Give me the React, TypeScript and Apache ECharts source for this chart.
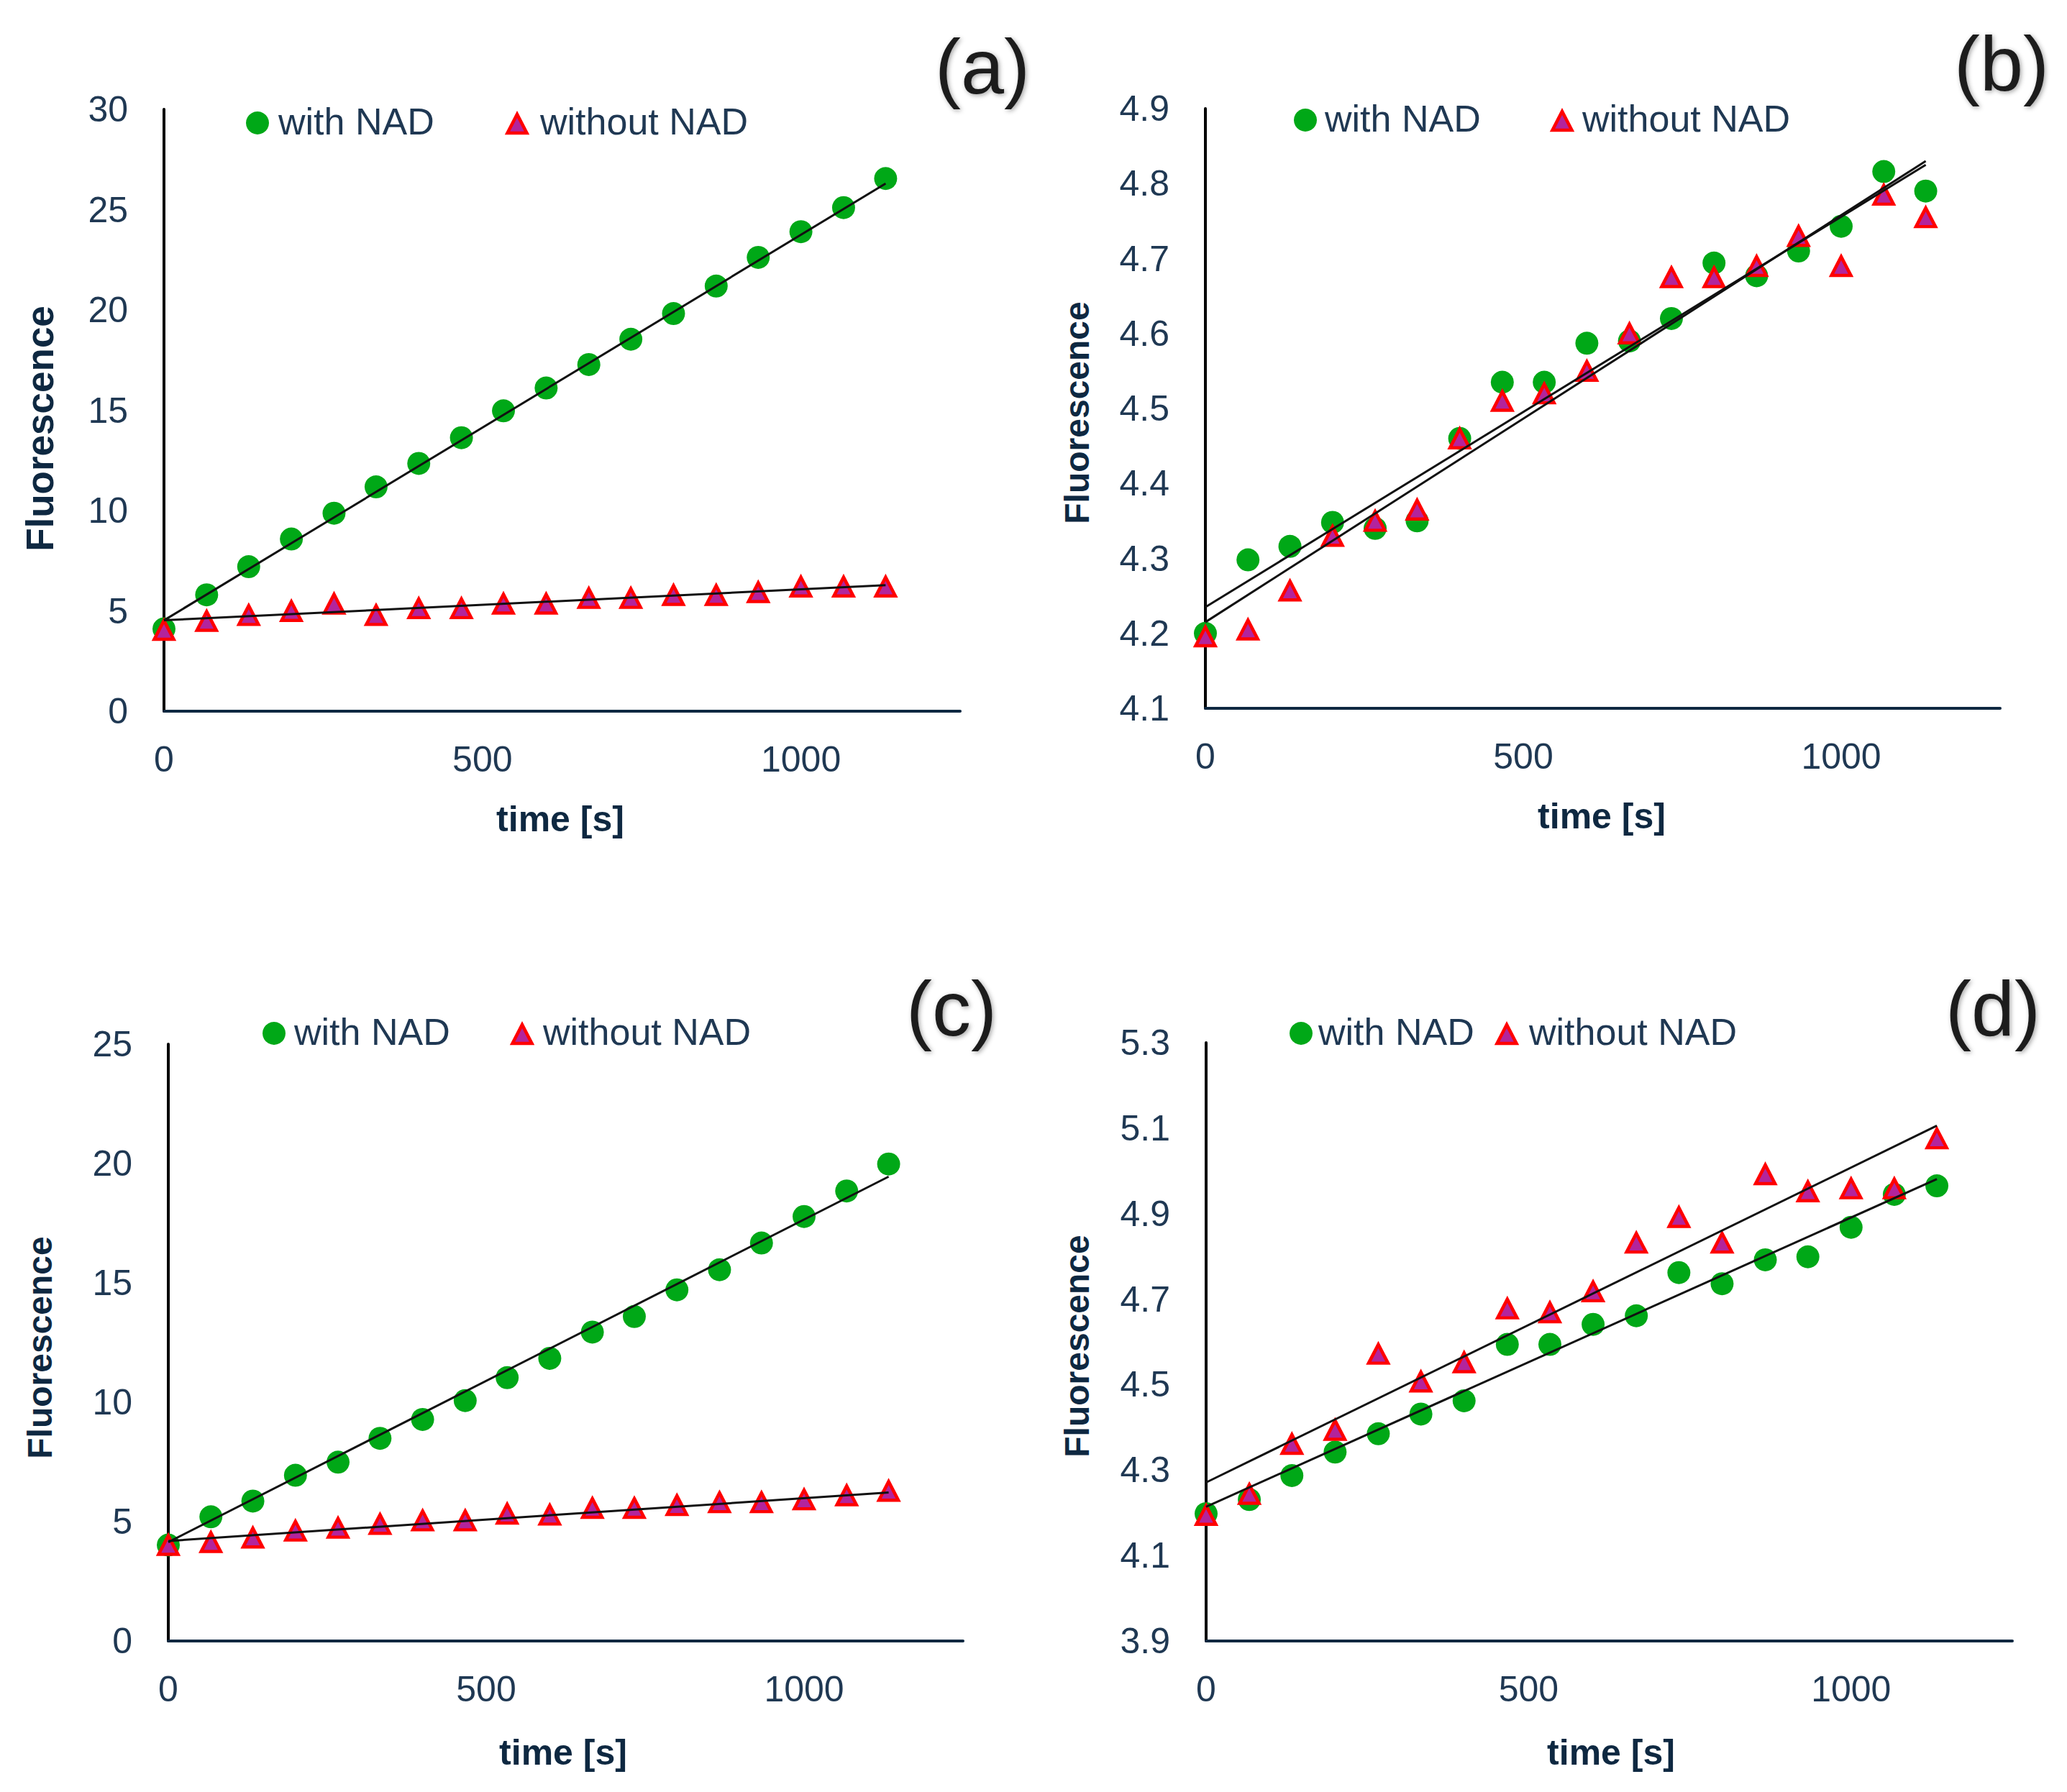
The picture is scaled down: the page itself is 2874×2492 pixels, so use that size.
import React, { useEffect, useRef } from "react";
import * as echarts from "echarts";

// ---------- data ----------
const times = [0, 67, 133, 200, 267, 333, 400, 467, 533, 600, 667, 733, 800, 867, 933, 1000, 1067, 1133];
const xTicks = [0, 500, 1000];
const xMax = 1250;

// (a)
const withNadA = [4.1, 5.8, 7.2, 8.58, 9.87, 11.18, 12.35, 13.63, 14.97, 16.11, 17.28, 18.54, 19.82, 21.19, 22.62, 23.9, 25.1, 26.55];
const withoutNadA = [4.05, 4.5, 4.79, 4.99, 5.36, 4.79, 5.13, 5.13, 5.36, 5.36, 5.64, 5.64, 5.79, 5.79, 5.93, 6.21, 6.21, 6.21];
const fitWithA = [4.53, 26.3];
const fitWithoutA = [4.53, 6.28];
const yTicksA = [0, 5, 10, 15, 20, 25, 30];

// (b)
const withNadB = [4.2, 4.298, 4.316, 4.348, 4.34, 4.35, 4.46, 4.535, 4.535, 4.587, 4.59, 4.62, 4.694, 4.677, 4.71, 4.743, 4.816, 4.79];
const withoutNadB = [4.196, 4.205, 4.257, 4.33, 4.35, 4.365, 4.46, 4.51, 4.52, 4.55, 4.6, 4.675, 4.675, 4.69, 4.73, 4.69, 4.785, 4.755];
const fitWithB = [4.235, 4.825];
const fitWithoutB = [4.215, 4.83];
const yTicksB = [4.1, 4.2, 4.3, 4.4, 4.5, 4.6, 4.7, 4.8, 4.9];

// (c)
const withNadC = [4.02, 5.2, 5.86, 6.94, 7.49, 8.49, 9.28, 10.07, 11.03, 11.84, 12.94, 13.59, 14.71, 15.55, 16.67, 17.78, 18.85, 19.98];
const withoutNadC = [4.02, 4.14, 4.33, 4.62, 4.74, 4.9, 5.05, 5.05, 5.33, 5.29, 5.57, 5.57, 5.69, 5.81, 5.81, 5.93, 6.1, 6.29];
const fitWithC = [4.14, 19.45];
const fitWithoutC = [4.19, 6.22];
const yTicksC = [0, 5, 10, 15, 20, 25];

// (d)
const withNadD = [4.198, 4.231, 4.287, 4.342, 4.385, 4.431, 4.462, 4.594, 4.594, 4.641, 4.661, 4.762, 4.736, 4.792, 4.799, 4.868, 4.945, 4.965];
const withoutNadD = [4.195, 4.244, 4.361, 4.394, 4.572, 4.507, 4.552, 4.678, 4.669, 4.718, 4.832, 4.892, 4.832, 4.992, 4.952, 4.959, 4.959, 5.076];
const fitWithD = [4.214, 4.981];
const fitWithoutD = [4.271, 5.106];
const yTicksD = [3.9, 4.1, 4.3, 4.5, 4.7, 4.9, 5.1, 5.3];

const seriesNames = ["with NAD", "without NAD"];
const panelLabels = ["(a)", "(b)", "(c)", "(d)"];
const xTitle = "time [s]";
const yTitle = "Fluorescence";

// ---------- layout / styles ----------
const FONT = "'Liberation Sans', Arial, sans-serif";
const TICK_COLOR = "#1f3853";
const TITLE_COLOR = "#0e2841";
const GREEN = "#00a817";
const TRI_FILL = "#b3249c";
const TRI_STROKE = "#ff0000";

const panels = [
  {
    data: [withNadA, withoutNadA], fits: [fitWithA, fitWithoutA], yTicks: yTicksA, yStep: 5,
    grid: { left: 228, top: 152, width: 1107, height: 837 },
    label: [1366, 92], yT: [55, 596], yTSize: 53, xT: [779, 1139],
    leg: { dot: [358, 171], dotText: 387, tri: 719, triText: 751 },
  },
  {
    data: [withNadB, withoutNadB], fits: [fitWithB, fitWithoutB], yTicks: yTicksB, yStep: 0.1,
    grid: { left: 1676, top: 151, width: 1105, height: 834 },
    label: [2783, 88], yT: [1497, 574], yTSize: 48, xT: [2227, 1135],
    leg: { dot: [1815, 167], dotText: 1842, tri: 2172, triText: 2200 },
  },
  {
    data: [withNadC, withoutNadC], fits: [fitWithC, fitWithoutC], yTicks: yTicksC, yStep: 5,
    grid: { left: 234, top: 1452, width: 1105, height: 830 },
    label: [1323, 1402], yT: [55, 1874], yTSize: 48, xT: [783, 2437],
    leg: { dot: [381, 1437], dotText: 409, tri: 726, triText: 755 },
  },
  {
    data: [withNadD, withoutNadD], fits: [fitWithD, fitWithoutD], yTicks: yTicksD, yStep: 0.1,
    grid: { left: 1677, top: 1450, width: 1121, height: 832 },
    label: [2771, 1402], yT: [1497, 1872], yTSize: 48, xT: [2240, 2437],
    leg: { dot: [1809, 1437], dotText: 1833, tri: 2095, triText: 2126 },
  },
];

function buildOption() {
  const grid: any[] = [];
  const xAxis: any[] = [];
  const yAxis: any[] = [];
  const series: any[] = [];
  const graphic: any[] = [];

  panels.forEach((p, i) => {
    grid.push({ ...p.grid, containLabel: false });
    xAxis.push({
      type: "value",
      gridIndex: i,
      min: xTicks[0],
      max: xMax,
      interval: xTicks[1] - xTicks[0],
      axisLine: { onZero: false, lineStyle: { color: "#0e2841", width: 4 } },
      axisTick: { show: false },
      splitLine: { show: false },
      axisLabel: {
        showMaxLabel: false,
        margin: 42,
        fontSize: 50,
        fontFamily: FONT,
        color: TICK_COLOR,
        formatter: (v: number) => (xTicks.some((t) => Math.abs(t - v) < 1e-6) ? String(v) : ""),
      },
    });
    const yt = p.yTicks;
    yAxis.push({
      type: "value",
      gridIndex: i,
      min: yt[0],
      max: yt[yt.length - 1],
      interval: p.yStep,
      axisLine: { show: true, onZero: false, lineStyle: { color: "#000000", width: 4 } },
      axisTick: { show: false },
      splitLine: { show: false },
      axisLabel: {
        margin: 50,
        fontSize: 50,
        fontFamily: FONT,
        color: TICK_COLOR,
        showMinLabel: true,
        showMaxLabel: true,
        formatter: (v: number) => {
          const hit = yt.find((t) => Math.abs(t - v) < 1e-6);
          if (hit === undefined) return "";
          return yt[1] - yt[0] < 1 ? hit.toFixed(1) : String(hit);
        },
      },
    });

    const [w, wo] = p.data;
    series.push({
      type: "scatter",
      name: seriesNames[0],
      xAxisIndex: i,
      yAxisIndex: i,
      symbol: "circle",
      symbolSize: 32,
      itemStyle: { color: GREEN, opacity: 1 },
      data: times.map((t, k) => [t, w[k]]),
      z: 2,
    });
    series.push({
      type: "scatter",
      name: seriesNames[1],
      xAxisIndex: i,
      yAxisIndex: i,
      symbol: "triangle",
      symbolSize: [27, 26],
      itemStyle: { color: TRI_FILL, borderColor: TRI_STROKE, borderWidth: 4.5, opacity: 1 },
      data: times.map((t, k) => [t, wo[k]]),
      z: 3,
    });
    p.fits.forEach((f, j) => {
      series.push({
        type: "line",
        name: "fit " + seriesNames[j],
        xAxisIndex: i,
        yAxisIndex: i,
        symbol: "none",
        lineStyle: { color: "#111111", width: 3 },
        data: [
          [times[0], f[0]],
          [times[times.length - 1], f[1]],
        ],
        z: 4,
      });
    });

    // panel label
    graphic.push({
      type: "text",
      x: p.label[0],
      y: p.label[1],
      style: {
        text: panelLabels[i],
        fontSize: 108,
        fontFamily: FONT,
        fill: "#1a1a1a",
        align: "center",
        verticalAlign: "middle",
        textShadowColor: "rgba(0,0,0,0.35)",
        textShadowBlur: 6,
        textShadowOffsetX: 2,
        textShadowOffsetY: 2,
      },
    });
    // axis titles
    graphic.push({
      type: "text",
      x: p.xT[0],
      y: p.xT[1],
      style: {
        text: xTitle,
        fontSize: 50,
        fontWeight: "bold",
        fontFamily: FONT,
        fill: TITLE_COLOR,
        align: "center",
        verticalAlign: "middle",
      },
    });
    graphic.push({
      type: "text",
      x: p.yT[0],
      y: p.yT[1],
      rotation: Math.PI / 2,
      style: {
        text: yTitle,
        fontSize: p.yTSize,
        fontWeight: "bold",
        fontFamily: FONT,
        fill: TITLE_COLOR,
        align: "center",
        verticalAlign: "middle",
      },
    });
    // legend
    const L = p.leg;
    graphic.push({
      type: "circle",
      shape: { cx: L.dot[0], cy: L.dot[1], r: 16 },
      style: { fill: GREEN },
    });
    graphic.push({
      type: "text",
      x: L.dotText,
      y: L.dot[1] - 2,
      style: {
        text: seriesNames[0],
        fontSize: 52,
        fontFamily: FONT,
        fill: TICK_COLOR,
        align: "left",
        verticalAlign: "middle",
      },
    });
    const cy = L.dot[1] + 1;
    graphic.push({
      type: "polygon",
      shape: {
        points: [
          [L.tri - 13.5, cy + 13],
          [L.tri, cy - 13],
          [L.tri + 13.5, cy + 13],
        ],
      },
      style: { fill: TRI_FILL, stroke: TRI_STROKE, lineWidth: 4.5 },
    });
    graphic.push({
      type: "text",
      x: L.triText,
      y: L.dot[1] - 2,
      style: {
        text: seriesNames[1],
        fontSize: 52,
        fontFamily: FONT,
        fill: TICK_COLOR,
        align: "left",
        verticalAlign: "middle",
      },
    });
  });

  return {
    animation: false,
    backgroundColor: "#ffffff",
    grid,
    xAxis,
    yAxis,
    series,
    graphic,
  };
}

export default function App() {
  const ref = useRef<HTMLDivElement | null>(null);
  useEffect(() => {
    if (!ref.current) return;
    const chart = echarts.init(ref.current, undefined, { renderer: "svg" });
    chart.setOption(buildOption() as any);
    return () => chart.dispose();
  }, []);
  return (
    <div
      ref={ref}
      style={{ position: "absolute", left: 0, top: 0, width: 2874, height: 2492, background: "#fff" }}
    />
  );
}
